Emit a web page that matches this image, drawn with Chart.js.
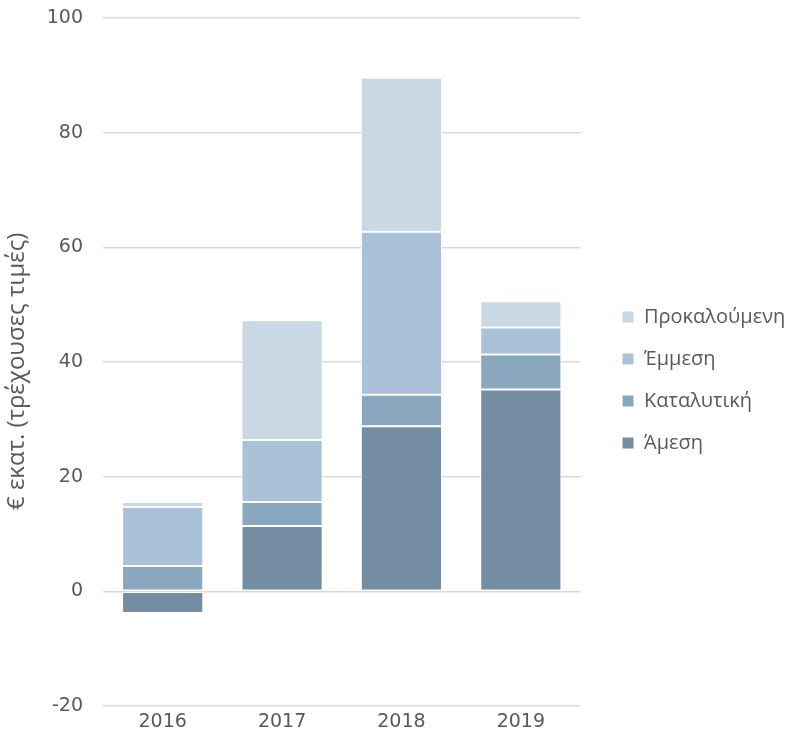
<!DOCTYPE html>
<html>
<head>
<meta charset="utf-8">
<script src="https://cdn.jsdelivr.net/npm/chart.js@4.4.1/dist/chart.umd.min.js"></script>
<style>
html,body{margin:0;padding:0;background:#fff;}
#wrap{width:792px;height:742px;position:relative;}
</style>
</head>
<body>
<div id="wrap"><canvas id="c" width="792" height="742"></canvas></div>
<script>
const categories = ['2016', '2017', '2018', '2019'];
const amesi = [-3.8, 11.4, 28.8, 35.2];
const katalytiki = [4.4, 4.2, 5.5, 6.1];
const emmesi = [10.3, 10.8, 28.4, 4.7];
const prokaloumeni = [0.9, 20.9, 26.9, 4.6];
const seriesNames = ['Άμεση', 'Καταλυτική', 'Έμμεση', 'Προκαλούμενη'];
const yTitle = '€ εκατ. (τρέχουσες τιμές)   ';
const yMin = -20, yMax = 100, yStep = 20;

const colors = ['#748da3', '#89a8c0', '#abc1d8', '#c9d8e5'];
const tickFont = {family: '"DejaVu Sans", sans-serif', size: 19};
const textColor = '#595959';

const ds = [amesi, katalytiki, emmesi, prokaloumeni].map((d, i) => ({
  label: seriesNames[i],
  data: d,
  backgroundColor: colors[i],
  borderColor: '#ffffff',
  borderWidth: 1,
  borderSkipped: false,
  barPercentage: 0.68,
  categoryPercentage: 1.0
}));

const legendShift = {
  id: 'legendShift',
  afterLayout(chart) {
    const lg = chart.legend;
    if (!lg) return;
    const dx = 622 - (lg.left + lg.options.labels.padding);
    lg.left += dx; lg.right += dx;
  }
};

new Chart(document.getElementById('c'), {
  type: 'bar',
  data: {labels: categories, datasets: ds},
  plugins: [legendShift],
  options: {
    responsive: false,
    animation: false,
    layout: {padding: {top: 18, bottom: 0, left: 0, right: 18}},
    plugins: {
      tooltip: {enabled: false},
      legend: {
        position: 'right',
        reverse: true,
        labels: {
          color: textColor,
          font: {family: '"Open Sans", sans-serif', size: 20},
          boxWidth: 12,
          boxHeight: 12,
          padding: 22
        }
      }
    },
    scales: {
      x: {
        stacked: true,
        grid: {display: false, drawTicks: false},
        border: {display: false},
        afterFit: s => { s.height = 36; s.paddingLeft = 0; s.paddingRight = 0; },
        ticks: {color: textColor, font: tickFont, padding: 5}
      },
      y: {
        stacked: true,
        min: yMin, max: yMax,
        afterFit: s => { s.width = 103; s.paddingTop = 0; s.paddingBottom = 0; },
        ticks: {stepSize: yStep, color: textColor, font: tickFont, padding: 20},
        grid: {color: '#d9d9d9', lineWidth: 1.5, drawTicks: false},
        border: {display: false},
        title: {display: true, text: yTitle, color: textColor, font: {family: '"Open Sans", sans-serif', size: 24}, padding: {top: 3, bottom: 0}}
      }
    }
  }
});
</script>
</body>
</html>
